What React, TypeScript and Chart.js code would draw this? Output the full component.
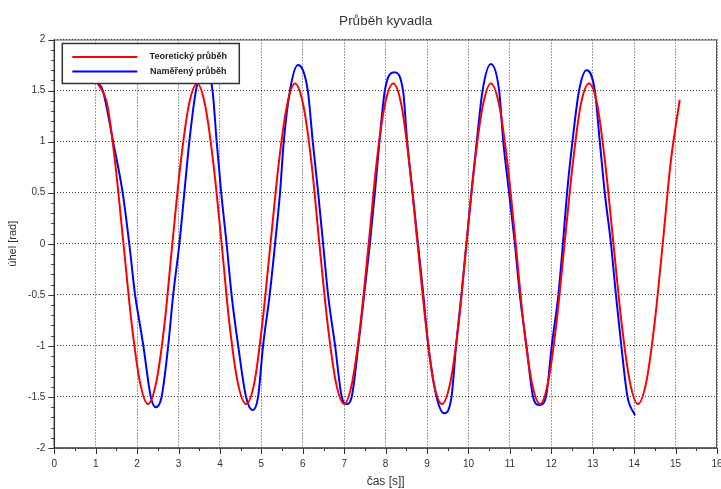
import React, { useEffect, useRef } from 'react';
import { Chart, registerables } from 'chart.js';

Chart.register(...registerables);

const chartTitle = 'Průběh kyvadla';
const xTitle = 'čas [s]]';
const yTitle = 'úhel [rad]';
const seriesNames = ['Teoretický průběh', 'Naměřený průběh'];
const seriesColors = ['#ff0000', '#0000ff'];

const theoryTime = [
  1.05, 1.28, 1.47, 1.67, 1.87, 2.07, 2.26, 2.46, 2.66, 2.85, 3.05, 3.25,
  3.45, 3.64, 3.84, 4.04, 4.23, 4.43, 4.63, 4.83, 5.02, 5.22, 5.42, 5.62,
  5.81, 6.01, 6.21, 6.40, 6.60, 6.80, 7.00, 7.19, 7.39, 7.59, 7.78, 7.98,
  8.18, 8.38, 8.57, 8.77, 8.97, 9.16, 9.36, 9.56, 9.76, 9.95, 10.15, 10.35,
  10.54, 10.74, 10.94, 11.14, 11.33, 11.53, 11.73, 11.92, 12.12, 12.32, 12.52, 12.71,
  12.91, 13.11, 13.30, 13.50, 13.70, 13.90, 14.09, 14.29, 14.49, 14.69, 14.88, 15.10,
];
const theoryAngle = [
  1.57, 1.36, 0.79, 0, -0.79, -1.36, -1.57, -1.36, -0.79, 0, 0.79, 1.36,
  1.57, 1.36, 0.79, 0, -0.79, -1.36, -1.57, -1.36, -0.79, 0, 0.79, 1.36,
  1.57, 1.36, 0.79, 0, -0.79, -1.36, -1.57, -1.36, -0.79, 0, 0.79, 1.36,
  1.57, 1.36, 0.79, 0, -0.79, -1.36, -1.57, -1.36, -0.79, 0, 0.79, 1.36,
  1.57, 1.36, 0.79, 0, -0.79, -1.36, -1.57, -1.36, -0.79, 0, 0.79, 1.36,
  1.57, 1.36, 0.79, 0, -0.79, -1.36, -1.57, -1.36, -0.79, 0, 0.79, 1.41,
];

const measuredTime = [
  1.05, 1.17, 1.42, 1.65, 1.81, 1.95, 2.05, 2.15, 2.33, 2.45, 2.59, 2.75, 2.87,
  3.02, 3.14, 3.26, 3.42, 3.62, 3.82, 3.92, 4.03, 4.16, 4.28, 4.44, 4.63, 4.79,
  4.92, 5.04, 5.20, 5.33, 5.45, 5.54, 5.69, 5.88, 6.12, 6.24, 6.37, 6.49, 6.61,
  6.78, 6.94, 7.06, 7.18, 7.34, 7.48, 7.62, 7.74, 7.85, 7.98, 8.21, 8.42, 8.52,
  8.65, 8.78, 8.91, 9.03, 9.23, 9.41, 9.59, 9.70, 9.83, 9.95, 10.07, 10.20, 10.34,
  10.54, 10.74, 10.84, 10.98, 11.12, 11.24, 11.40, 11.56, 11.71, 11.87, 12.01, 12.17,
  12.28, 12.38, 12.51, 12.67, 12.85, 13.05, 13.17, 13.29, 13.44, 13.56, 13.69, 13.84, 14.02,
];
const measuredAngle = [
  1.58, 1.5, 1.0, 0.5, 0.0, -0.5, -0.75, -1.0, -1.5, -1.6, -1.5, -1.0, -0.5,
  0.0, 0.5, 1.0, 1.5, 1.73, 1.5, 1.0, 0.5, 0.0, -0.5, -1.0, -1.5, -1.63,
  -1.5, -1.0, -0.5, 0.0, 0.5, 1.0, 1.5, 1.75, 1.5, 1.0, 0.5, 0.0, -0.5,
  -1.0, -1.5, -1.57, -1.5, -1.0, -0.5, 0.0, 0.5, 1.0, 1.5, 1.68, 1.5, 1.0,
  0.5, 0.0, -0.5, -1.0, -1.5, -1.66, -1.5, -1.0, -0.5, 0.0, 0.5, 1.0, 1.5,
  1.76, 1.5, 1.0, 0.5, 0.0, -0.5, -1.0, -1.5, -1.58, -1.5, -1.0, -0.5,
  0.0, 0.5, 1.0, 1.5, 1.70, 1.5, 1.0, 0.5, 0.0, -0.5, -1.0, -1.5, -1.68,
];

const xMin = 0, xMax = 16, xStep = 1, xMinorStep = 0.5;
const yMin = -2, yMax = 2, yStep = 0.5, yMinorStep = 0.1;

const FONT = "'Liberation Sans', Arial, sans-serif";

const fmt = (v: number) => String(Number(Number(v).toFixed(2)));

const framePlugin = {
  id: 'frameTicks',
  afterDatasetsDraw(chart: any) {
    const { ctx, chartArea: a, scales } = chart;
    const xs = scales.x, ys = scales.y;
    ctx.save();
    ctx.strokeStyle = '#555';
    ctx.lineWidth = 1;
    ctx.beginPath();
    ctx.moveTo(a.left, a.top + 0.5);
    ctx.lineTo(a.right, a.top + 0.5);
    ctx.moveTo(a.right - 0.5, a.top);
    ctx.lineTo(a.right - 0.5, a.bottom);
    ctx.stroke();
    ctx.strokeStyle = '#333';
    ctx.lineWidth = 1.5;
    ctx.beginPath();
    ctx.moveTo(a.left, a.top);
    ctx.lineTo(a.left, a.bottom);
    ctx.lineTo(a.right, a.bottom);
    ctx.stroke();
    ctx.lineWidth = 1;
    ctx.beginPath();
    const nx = Math.round((xMax - xMin) / xMinorStep);
    for (let i = 0; i <= nx; i++) {
      const v = xMin + i * xMinorStep;
      const major = Math.abs(v / xStep - Math.round(v / xStep)) < 1e-6;
      const px = Math.round(xs.getPixelForValue(v)) + 0.5;
      ctx.moveTo(px, a.bottom);
      ctx.lineTo(px, a.bottom + (major ? 6 : 3));
    }
    const ny = Math.round((yMax - yMin) / yMinorStep);
    for (let i = 0; i <= ny; i++) {
      const v = yMin + i * yMinorStep;
      const major = Math.abs(v / yStep - Math.round(v / yStep)) < 1e-6;
      const py = Math.round(ys.getPixelForValue(v)) + 0.5;
      ctx.moveTo(a.left, py);
      ctx.lineTo(a.left - (major ? 6 : 3), py);
    }
    ctx.stroke();

    // legend box
    const lx = a.left + 8, ly = a.top + 4, lw = 177, lh = 40;
    ctx.fillStyle = '#ffffff';
    ctx.fillRect(lx, ly, lw, lh);
    ctx.strokeStyle = '#333';
    ctx.lineWidth = 1.5;
    ctx.strokeRect(lx, ly, lw, lh);
    ctx.font = `bold 9px ${FONT}`;
    ctx.textAlign = 'center';
    ctx.textBaseline = 'middle';
    chart.data.datasets.forEach((ds: any, i: number) => {
      const yy = ly + 13.5 + i * 14.5;
      ctx.strokeStyle = ds.borderColor;
      ctx.lineWidth = 2;
      ctx.beginPath();
      ctx.moveTo(lx + 10, yy);
      ctx.lineTo(lx + 75, yy);
      ctx.stroke();
      ctx.fillStyle = '#222';
      ctx.fillText(ds.label, lx + 126, yy);
    });

    // title
    ctx.font = `13.5px ${FONT}`;
    ctx.fillStyle = '#333';
    ctx.textAlign = 'center';
    ctx.textBaseline = 'alphabetic';
    ctx.fillText(chartTitle, (a.left + a.right) / 2, 25);
    ctx.restore();
  },
};

export default function App() {
  const ref = useRef<HTMLCanvasElement | null>(null);
  useEffect(() => {
    if (!ref.current) return;
    const theory = theoryTime.map((t, i) => ({ x: t, y: theoryAngle[i] }));
    const measured = measuredTime.map((t, i) => ({ x: t, y: measuredAngle[i] }));
    const chart = new Chart(ref.current, {
      type: 'line',
      data: {
        datasets: [
          { label: seriesNames[0], data: theory, borderColor: seriesColors[0], borderWidth: 2, pointRadius: 0, cubicInterpolationMode: 'monotone', fill: false },
          { label: seriesNames[1], data: measured, borderColor: seriesColors[1], borderWidth: 2, pointRadius: 0, cubicInterpolationMode: 'monotone', fill: false },
        ],
      },
      options: {
        responsive: false,
        animation: false,
        layout: { padding: { top: 39.5, right: 4, left: 0, bottom: 0 } },
        plugins: { legend: { display: false }, title: { display: false }, tooltip: { enabled: false } },
        scales: {
          x: {
            type: 'linear', min: xMin, max: xMax,
            ticks: { stepSize: xStep, padding: 10, color: '#333', font: { family: FONT, size: 10 }, maxRotation: 0, autoSkip: false, callback: (v: any) => fmt(v) },
            grid: { color: 'rgba(0,0,0,0.75)', drawTicks: false, lineWidth: 1 },
            border: { display: false, dash: [1, 2] },
            title: { display: true, text: xTitle, color: '#333', font: { family: FONT, size: 12 }, padding: { top: 0, bottom: 0 } },
            afterFit: (s: any) => { s.height = 41; s.paddingLeft = 0; s.paddingRight = 0; },
          },
          y: {
            type: 'linear', min: yMin, max: yMax,
            ticks: { stepSize: yStep, padding: 9, color: '#333', font: { family: FONT, size: 10 }, autoSkip: false, callback: (v: any) => fmt(v) },
            grid: { color: 'rgba(0,0,0,0.75)', drawTicks: false, lineWidth: 1 },
            border: { display: false, dash: [1, 2] },
            title: { display: true, text: yTitle, color: '#333', font: { family: FONT, size: 11 }, padding: { top: 6, bottom: 0 } },
            afterFit: (s: any) => { s.width = 54.3; s.paddingTop = 0; s.paddingBottom = 0; },
          },
        },
      },
      plugins: [framePlugin],
    } as any);
    return () => chart.destroy();
  }, []);
  return (
    <div style={{ position: 'fixed', left: 0, top: 0, width: 721, height: 489, background: '#fff' }}>
      <canvas ref={ref} width={721} height={489} style={{ display: 'block' }} />
    </div>
  );
}
